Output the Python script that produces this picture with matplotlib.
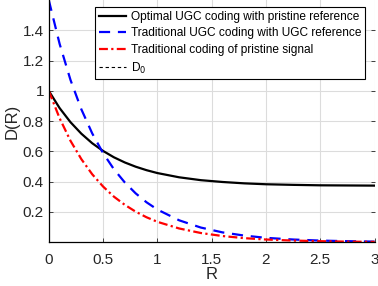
import matplotlib
matplotlib.use("Agg")
import matplotlib.pyplot as plt
from matplotlib.ticker import FuncFormatter

plt.rcParams['font.family'] = ['Liberation Sans', 'DejaVu Sans']

# Data
R = [0.0, 0.1, 0.2, 0.3, 0.4, 0.5, 0.6, 0.7, 0.8, 0.9, 1.0, 1.2, 1.4, 1.6, 1.8, 2.0, 2.25, 2.5, 2.75, 3.0]
D_opt = [1.0, 0.886, 0.793, 0.717, 0.654, 0.603, 0.561, 0.527, 0.499, 0.476, 0.457,
         0.429, 0.410, 0.398, 0.389, 0.383, 0.379, 0.376, 0.375, 0.374]
D_trad_ugc = [1.6, 1.31, 1.072, 0.878, 0.719, 0.589, 0.482, 0.395, 0.323, 0.264, 0.216,
              0.145, 0.097, 0.065, 0.044, 0.029, 0.018, 0.011, 0.007, 0.004]
D_trad_pr = [1.0, 0.819, 0.670, 0.549, 0.449, 0.368, 0.301, 0.247, 0.202, 0.165, 0.135,
             0.091, 0.061, 0.041, 0.027, 0.018, 0.011, 0.007, 0.004, 0.0025]

labels = ["Optimal UGC coding with pristine reference",
          "Traditional UGC coding with UGC reference",
          "Traditional coding of pristine signal",
          "D$_0$"]

xticks = [0, 0.5, 1, 1.5, 2, 2.5, 3]
yticks = [0.2, 0.4, 0.6, 0.8, 1.0, 1.2, 1.4]

fig = plt.figure(figsize=(3.78, 2.86), dpi=100)
ax = fig.add_axes([0.129, 0.153, 0.862, 0.847])

ax.plot(R, D_opt, color='black', lw=1.6, label=labels[0])
ax.plot(R, D_trad_ugc, color='blue', lw=1.6, ls=(0, (5, 3.5)), label=labels[1])
ax.plot(R, D_trad_pr, color='red', lw=1.6, ls=(0, (4, 1.5, 1, 1.5)), label=labels[2])
ax.plot([], [], color='black', lw=0.8, ls=(0, (3, 2.5)), label=labels[3])

ax.set_xlim(0, 3)
ax.set_ylim(0, 1.6)
ax.set_xticks(xticks)
ax.set_yticks(yticks)
fmt = FuncFormatter(lambda v, p: ('%g' % v))
ax.xaxis.set_major_formatter(fmt)
ax.yaxis.set_major_formatter(fmt)
ax.grid(True, color='#dcdcdc', lw=0.8)
ax.set_axisbelow(True)

for s in ['top', 'right']:
    ax.spines[s].set_visible(False)
for s in ['left', 'bottom']:
    ax.spines[s].set_linewidth(0.9)
ax.tick_params(direction='in', length=3, width=0.6, labelsize=11, colors='#262626', right=True)
ax.tick_params(axis='x', pad=8)

ax.set_xlabel('R', fontsize=12, color='#262626', labelpad=0)
ax.set_ylabel('D(R)', fontsize=12, color='#262626', labelpad=2)

leg = ax.legend(loc='upper right', bbox_to_anchor=(0.97, 0.971), fontsize=8.6,
                frameon=True, fancybox=False, framealpha=1, edgecolor='black',
                handlelength=2.3, handletextpad=0.35, borderpad=0.32,
                labelspacing=0.38, borderaxespad=0)
leg.get_frame().set_linewidth(0.8)

fig.savefig('out.png', dpi=100)
